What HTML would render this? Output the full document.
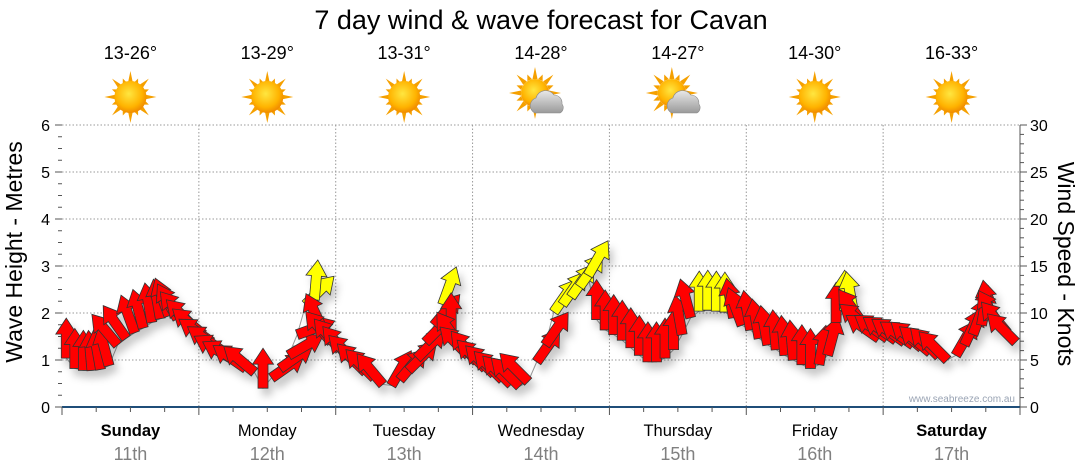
<!DOCTYPE html>
<html><head><meta charset="utf-8"><style>
body{margin:0;background:#fff;}
svg{display:block;font-family:"Liberation Sans",sans-serif;}
</style></head><body>
<svg id="chart" width="1080" height="475" viewBox="0 0 1080 475">
<defs>
<filter id="sh" x="-30%" y="-30%" width="160%" height="160%"><feDropShadow dx="4" dy="7" stdDeviation="4" flood-color="#000" flood-opacity="0.22"/></filter>
<radialGradient id="sunG" cx="45%" cy="40%" r="60%"><stop offset="0" stop-color="#ffe640"/><stop offset="0.7" stop-color="#ffb300"/><stop offset="1" stop-color="#f08a00"/></radialGradient>
<linearGradient id="cloudG" x1="0" y1="0" x2="0" y2="1"><stop offset="0" stop-color="#e8e8e8"/><stop offset="1" stop-color="#9a9a9a"/></linearGradient>
</defs>
<text x="541" y="29" text-anchor="middle" font-size="27" fill="#000">7 day wind &amp; wave forecast for Cavan</text>
<g id="grid"></g>
<g id="header"></g>
<g id="axes"></g>
<text transform="translate(22,252) rotate(-90)" text-anchor="middle" font-size="23">Wave Height - Metres</text>
<text transform="translate(1058,264) rotate(90)" text-anchor="middle" font-size="23">Wind Speed - Knots</text>
<text x="1015" y="402" text-anchor="end" font-size="10" fill="#9aa4b4">www.seabreeze.com.au</text>
<g id="series"></g>
</svg>
<script>
const days=["Sunday","Monday","Tuesday","Wednesday","Thursday","Friday","Saturday"];
const dates=["11th","12th","13th","14th","15th","16th","17th"];
const temps=["13-26°","13-29°","13-31°","14-28°","14-27°","14-30°","16-33°"];
const cloudy=[false,false,false,true,true,false,false];
const waveTicks=[0,1,2,3,4,5,6];
const knotTicks=[0,5,10,15,20,25,30];
const knots=[
5.2,4.1,3.9,3.9,4.0,4.4,6.6,7.3,7.9,8.4,9.0,9.4,9.7,9.4,9.0,8.4,
7.7,6.9,6.1,5.4,4.8,4.1,3.7,2.0,3.1,4.1,5.5,7.7,10.9,11.4,8.2,6.9,
6.1,5.3,4.6,3.7,3.1,2.4,2.3,2.9,3.9,5.2,6.9,8.7,10.9,7.9,6.6,5.5,
4.8,4.1,3.5,2.9,2.4,2.2,2.7,4.8,6.6,10.1,10.9,11.7,12.8,14.0,9.3,8.2,
7.7,7.1,6.3,5.5,4.8,4.8,5.2,6.1,7.7,9.5,10.2,10.3,10.2,10.1,9.5,8.7,
8.2,7.3,6.6,6.1,5.5,5.0,4.5,4.1,4.5,5.5,9.0,10.3,10.2,9.0,8.2,7.3,
7.3,7.1,6.9,6.6,6.3,5.8,5.4,5.0,5.5,6.6,7.7,8.7,9.3,8.7,7.9,6.9];
const dirs=[
0,0,0,-5,-10,-15,-40,-35,-20,-15,-10,-10,-20,-30,-40,-45,
-50,-55,-55,-60,-60,-55,-50,0,55,55,60,70,45,5,-25,-40,
-40,-40,-45,-45,-45,-40,30,40,45,45,45,40,20,0,-35,-45,
-40,-45,-45,-45,-45,-45,-45,35,35,35,35,35,35,30,0,0,
0,0,0,0,0,0,0,0,-10,-15,0,0,0,0,-10,-20,
-10,-10,-10,-5,-5,-5,0,0,10,15,0,0,-10,-35,-50,-55,
-55,-55,-55,-55,-50,-50,-45,-45,30,25,20,10,-10,-30,-40,-45];
const yellowThreshold=10;

const NS="http://www.w3.org/2000/svg";
const X0=62,X1=1020,Y0=407,Y1=125;
const dayW=(X1-X0)/7;
const xHour=h=>X0+h/168*(X1-X0);
const yWave=m=>Y0-m/6*(Y0-Y1);
const yKnot=k=>Y0-k/30*(Y0-Y1);
const stepH=168/knots.length;
function mk(tag,attrs,parent){const e=document.createElementNS(NS,tag);for(const k in attrs)e.setAttribute(k,attrs[k]);parent.appendChild(e);return e;}
const grid=document.getElementById('grid'),axes=document.getElementById('axes'),header=document.getElementById('header'),series=document.getElementById('series');

waveTicks.forEach((m,i)=>{
  if(m>0){const g=mk('line',{x1:X0,x2:X1,y1:yWave(m),y2:yWave(m),stroke:'#999','stroke-dasharray':'1.5,2','stroke-width':1},grid);
  
  }
  const t=mk('text',{x:50,y:yWave(m)+6,'text-anchor':'end','font-size':16},axes);t.textContent=m;
  
  
});
for(let q=0;q<=24;q++){const y=Y0-q/24*(Y0-Y1);mk('line',{x1:q%4?58:55,x2:X0,y1:y,y2:y,stroke:'#555'},axes);}
for(let k=0;k<=30;k++){const y=yKnot(k);mk('line',{x1:X1,x2:k%5?1024:1027,y1:y,y2:y,stroke:'#555'},axes);}
knotTicks.forEach(k=>{const t=mk('text',{x:1030,y:yKnot(k)+6,'font-size':16},axes);t.textContent=k;
  
  });
mk('line',{x1:X1,x2:X1,y1:Y1,y2:Y0,stroke:'#555'},axes);
mk('line',{x1:X0,x2:X1,y1:Y0,y2:Y0,stroke:'#1f4e79','stroke-width':2},axes);
for(let h=0;h<=168;h+=6){const x=xHour(h);mk('line',{x1:x,x2:x,y1:Y0,y2:Y0+(h%24?5:8),stroke:'#555'},axes);}

days.forEach((d,i)=>{
  const cx=X0+dayW*(i+0.5);
  if(i>0){const v=mk('line',{x1:X0+dayW*i,x2:X0+dayW*i,y1:Y1,y2:Y0,stroke:'#999','stroke-dasharray':'1.5,2'},grid);
  
  }
  const t=mk('text',{x:cx,y:436,'text-anchor':'middle','font-size':16.5,'font-weight':(i==0||i==6)?'bold':'normal'},axes);t.textContent=d;
  
  
  const t2=mk('text',{x:cx,y:460,'text-anchor':'middle','font-size':18,fill:'#808080'},axes);t2.textContent=dates[i];
  
  
  const tt=mk('text',{x:cx,y:59,'text-anchor':'middle','font-size':18},header);tt.textContent=temps[i];
  
  
  const ic=mk('g',{transform:`translate(${cx},97)`},header);
  
  
  const sx=cloudy[i]?-6:0,sy=cloudy[i]?-4:0;
  for(let r=0;r<16;r++){const a=r*22.5,L=r%2?20:26;mk('polygon',{points:`-2.5,-14 0,-${L} 2.5,-14`,fill:'#f5a000',transform:`translate(${sx},${sy}) rotate(${a})`},ic);}
  mk('circle',{cx:sx,cy:sy,r:cloudy[i]?14:16,fill:'url(#sunG)'},ic);
  if(cloudy[i]){mk('path',{d:'M-6,16 a8,8 0 0 1 1,-15 a10,10 0 0 1 18,-3 a8,8 0 0 1 8,9 a6,6 0 0 1 -2,9 z',fill:'url(#cloudG)',stroke:'#8a8a8a','stroke-width':0.6},ic);}
});

const pts=knots.map((k,i)=>[xHour(i*stepH+stepH/2),yKnot(k)]);
const ln=mk('polyline',{points:pts.map(p=>p.join(',')).join(' '),fill:'none',stroke:'#999','stroke-width':1},series);


const ag=mk('g',{filter:'url(#sh)'},series);
knots.forEach((k,i)=>{
  const a=mk('path',{d:'M-5,0 L-5,-24 L-10.5,-24 L0,-40 L10.5,-24 L5,-24 L5,0 Z',fill:k>=yellowThreshold?'#ffff00':'#ff0000',stroke:'#333','stroke-width':0.8,transform:`translate(${pts[i][0]},${pts[i][1]}) rotate(${dirs[i]})`},ag);
  
  
});
</script>
</body></html>
